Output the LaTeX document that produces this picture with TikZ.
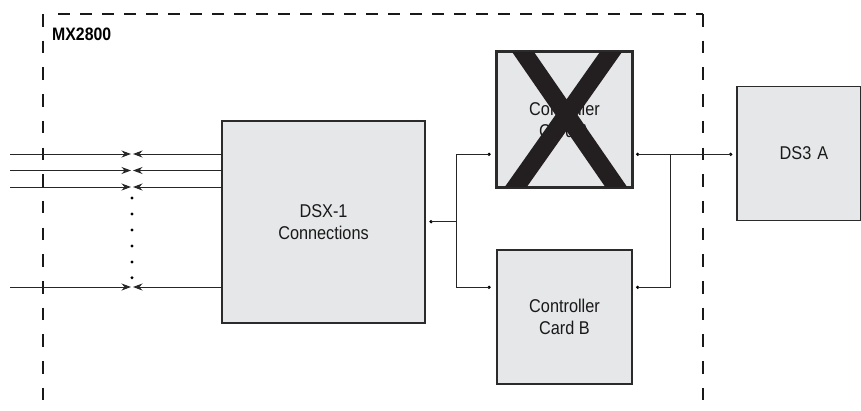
\documentclass[tikz,border=0pt]{standalone}
\usepackage{fontspec}
\setmainfont{Liberation Sans}[FakeStretch=0.88]
\usetikzlibrary{arrows.meta}
\definecolor{boxfill}{HTML}{E6E7E8}
\definecolor{boxline}{HTML}{2B2B2B}
\definecolor{xcol}{HTML}{231F20}
\tikzset{
  cardbox/.style={draw=boxline, line width=1.8pt, fill=boxfill, inner sep=0pt,
    align=center, font=\fontsize{18.5}{22}\selectfont, text=black!90},
  conn/.style={line width=1pt, draw=black!85},
  endpt/.style={circle, fill=black, inner sep=0pt, minimum size=3.6pt},
  sig/.style={line width=1pt, draw=black!85, -{Stealth[length=9.5pt,width=7pt]}},
  vdots/.style={circle, fill=black, inner sep=0pt, minimum size=3.4pt},
  boundary/.style={line width=1.8pt, draw=black!90}
}
\begin{document}
\begin{tikzpicture}[x=1pt,y=-1pt]
\useasboundingbox (0,0) rectangle (861,410);
% MX2800 boundary
\draw[boundary, dash pattern=on 12.5pt off 14.2pt] (43,14) -- (43,410);
\draw[boundary, dash pattern=on 12.5pt off 14.2pt] (703,14) -- (703,410);
\draw[boundary, dash pattern=on 12pt off 10pt] (58,14) -- (703,14);
\node[anchor=base west, font=\fontsize{18}{22}\selectfont\bfseries, inner sep=0pt] (mx) at (52,40) {MX2800};

% boxes
\node[cardbox, minimum width=203pt, minimum height=202pt] (dsx) at (323.5,222) {DSX-1\\Connections};
\node[cardbox, minimum width=135pt, minimum height=134.5pt] (ca) at (564.5,119.5) {Controller\\Card A};
\node[cardbox, minimum width=135pt, minimum height=134pt] (cb) at (564.5,317) {Controller\\Card B};
\node[cardbox, minimum width=124pt, minimum height=134pt, text width=124pt] (ds3) at (799,153.5) {\hspace*{10pt}DS3 A};

% X over card A
\begin{scope}
  \clip (ca.south west) rectangle (ca.north east);
  \draw[xcol, line width=18pt] (504.4,25) -- (634.6,213.6);
  \draw[xcol, line width=18pt] (630,25) -- (497,213.6);
\end{scope}
\draw[boxline, line width=1.8pt] (ca.south west) rectangle (ca.north east);

% connection end points
\node[endpt] (dOut) at (431,221.7) {};
\node[endpt] (aIn) at (489,154.3) {};
\node[endpt] (bIn) at (489,287.3) {};
\node[endpt] (aOut) at (637.7,154.3) {};
\node[endpt] (bOut) at (637.7,287.3) {};
\node[endpt] (dsIn) at (730.7,154.3) {};
\coordinate (j1) at (456.7,221.7);
\coordinate (j2) at (670,154.3);

\draw[conn] (dOut.center) -- (j1) |- (aIn.center);
\draw[conn] (j1) |- (bIn.center);
\draw[conn] (aOut.center) -- (dsIn.center);
\draw[conn] (j2) |- (bOut.center);

% DSX-1 signal lines
\foreach \y/\n in {154/1,170.5/2,187/3,287/4}{
  \coordinate (in\n) at (10,\y);
  \coordinate (mr\n) at (131,\y);
  \coordinate (ml\n) at (133,\y);
  \coordinate (dx\n) at (222,\y);
  \draw[sig] (in\n) -- (mr\n);
  \draw[sig] (dx\n) -- (ml\n);
}
\foreach \y/\n in {198/1,214/2,230/3,246/4,262/5,277.7/6}{
  \node[vdots] (vd\n) at (132,\y) {};
}
\end{tikzpicture}
\end{document}
